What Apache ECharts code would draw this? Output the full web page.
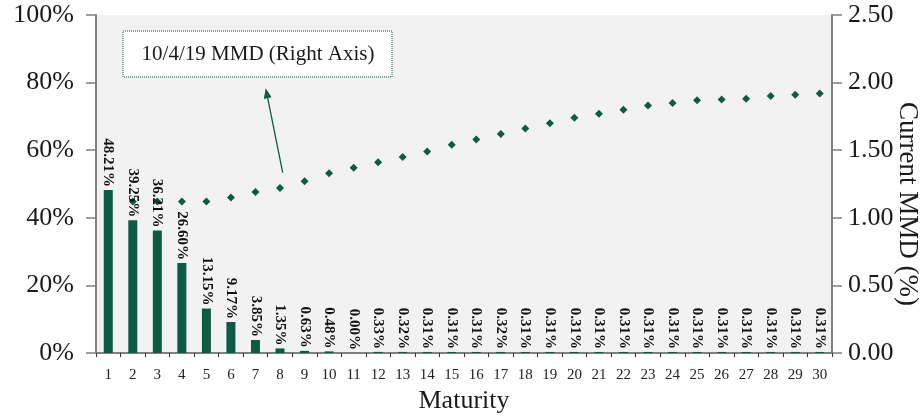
<!DOCTYPE html>
<html>
<head>
<meta charset="utf-8">
<script src="https://cdn.jsdelivr.net/npm/echarts@6/dist/echarts.min.js"></script>
<style>html,body{margin:0;padding:0;background:#fff;}#c{width:923px;height:417px;}</style>
</head>
<body>
<div id="c"></div>
<script>
var categories = ['1','2','3','4','5','6','7','8','9','10','11','12','13','14','15','16','17','18','19','20','21','22','23','24','25','26','27','28','29','30'];
var shareValues = [48.21,39.25,36.21,26.60,13.15,9.17,3.85,1.35,0.63,0.48,0.00,0.33,0.32,0.31,0.31,0.31,0.32,0.31,0.31,0.31,0.31,0.31,0.31,0.31,0.31,0.31,0.31,0.31,0.31,0.31];
var mmdValues = [1.12,1.12,1.12,1.12,1.12,1.15,1.19,1.22,1.27,1.33,1.37,1.41,1.45,1.49,1.54,1.58,1.62,1.66,1.70,1.74,1.77,1.80,1.83,1.85,1.87,1.875,1.88,1.90,1.91,1.92];
var annotationText = '10/4/19 MMD (Right Axis)';

var GREEN = '#0d5b44';
var GRAY = '#808080';
var FONT = 'Liberation Serif';

var chart = echarts.init(document.getElementById('c'));
chart.setOption({
  animation: false,
  textStyle: { fontFamily: FONT, color: '#1a1a1a' },
  grid: { left: 96, right: 91, top: 15, bottom: 64, show: true, backgroundColor: '#f2f2f2', borderWidth: 0, containLabel: false, outerBoundsMode: 'none' },
  xAxis: {
    type: 'category',
    data: categories,
    name: 'Maturity',
    nameLocation: 'middle',
    nameGap: 35,
    nameMoveOverlap: false,
    nameTextStyle: { fontFamily: FONT, fontSize: 26, color: '#1a1a1a' },
    axisLine: { lineStyle: { color: GRAY, width: 2 } },
    axisTick: { show: true, length: 4, lineStyle: { color: '#333', width: 1 } },
    axisLabel: { fontFamily: FONT, fontSize: 15, color: '#222', margin: 15, interval: 0 },
    splitLine: { show: false }
  },
  yAxis: [
    {
      type: 'value', min: 0, max: 100, interval: 20, position: 'left',
      axisLine: { show: true, lineStyle: { color: GRAY, width: 2 } },
      axisTick: { show: true, length: 10, lineStyle: { color: GRAY, width: 1.5 } },
      axisLabel: { formatter: '{value}%', fontFamily: FONT, fontSize: 26, color: '#1a1a1a', margin: 22 },
      splitLine: { show: false }
    },
    {
      type: 'value', min: 0, max: 2.5, interval: 0.5, position: 'right',
      name: 'Current MMD (%)',
      nameLocation: 'middle',
      nameRotate: -90,
      nameGap: 62,
      nameMoveOverlap: false,
      nameTextStyle: { fontFamily: FONT, fontSize: 27, color: '#1a1a1a', padding: [0, 0, 0, 40] },
      axisLine: { show: true, lineStyle: { color: GRAY, width: 2 } },
      axisTick: { show: true, length: 10, lineStyle: { color: GRAY, width: 1.5 } },
      axisLabel: { formatter: function (v) { return v.toFixed(2); }, fontFamily: FONT, fontSize: 26, color: '#1a1a1a', margin: 16 },
      splitLine: { show: false }
    }
  ],
  series: [
    {
      type: 'bar',
      data: shareValues,
      yAxisIndex: 0,
      barWidth: 9,
      itemStyle: { color: GREEN },
      label: {
        show: true,
        position: 'top',
        rotate: -90,
        align: 'right',
        verticalAlign: 'middle',
        distance: 3,
        fontFamily: FONT,
        fontSize: 15,
        fontWeight: 'bold',
        color: '#111',
        formatter: function (p) { return p.value.toFixed(2) + '%'; }
      },
      z: 2
    },
    {
      type: 'scatter',
      data: mmdValues,
      yAxisIndex: 1,
      symbol: 'diamond',
      symbolSize: 8,
      itemStyle: { color: GREEN, opacity: 1 },
      z: 1
    }
  ],
  graphic: [
    {
      type: 'rect',
      shape: { x: 123, y: 31, width: 269, height: 46 },
      style: { fill: '#ffffff', stroke: GREEN, lineWidth: 1, lineDash: [1, 1] },
      z: 10
    },
    {
      type: 'text',
      x: 258, y: 54,
      style: { text: annotationText, fontFamily: FONT, fontSize: 21, fill: '#1a1a1a', align: 'center', verticalAlign: 'middle' },
      z: 11
    },
    {
      type: 'line',
      shape: { x1: 282.7, y1: 172.7, x2: 267.7, y2: 98.1 },
      style: { stroke: GREEN, lineWidth: 1.3 },
      z: 10
    },
    {
      type: 'polygon',
      shape: { points: [[265.7, 88.3], [271.6, 97.3], [263.8, 98.9]] },
      style: { fill: GREEN },
      z: 10
    }
  ]
});
</script>
</body>
</html>
